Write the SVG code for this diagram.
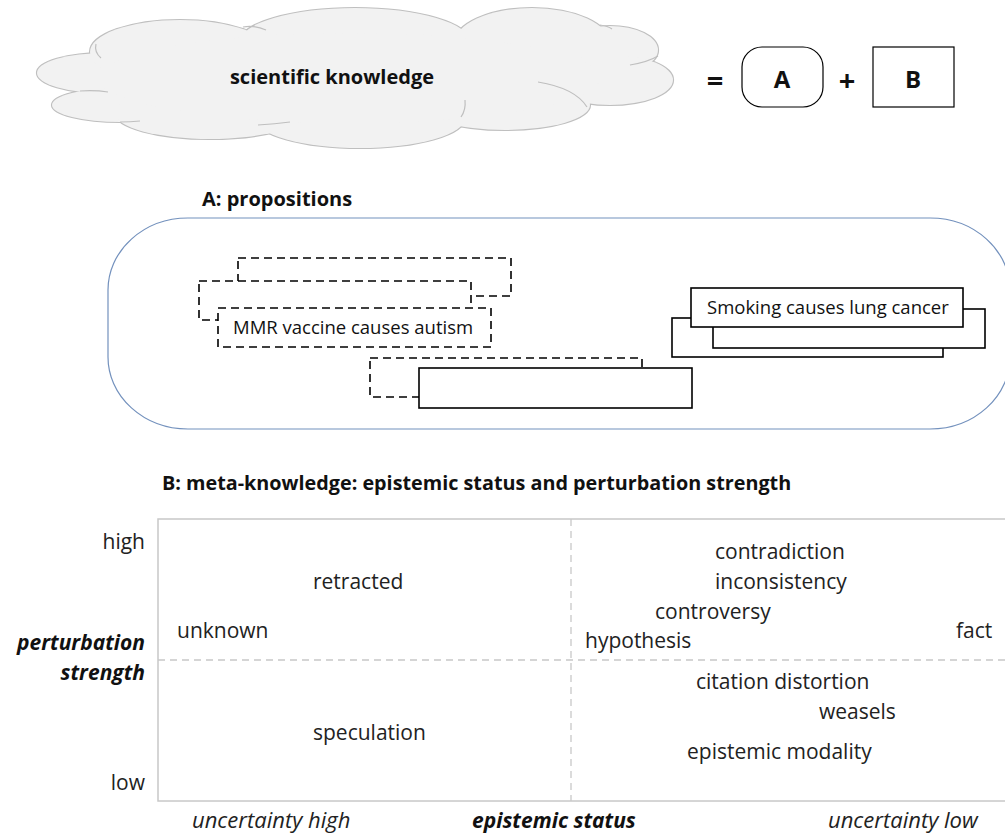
<svg xmlns="http://www.w3.org/2000/svg" width="1005" height="835" viewBox="0 0 1005 835">
<style>
text{font-family:"Open Sans","Liberation Sans",sans-serif;fill:#111}
.title{font-weight:bold;font-size:20px}
.prop{font-size:18.5px}
.lbl{font-size:21px;fill:#222}
.axis{font-size:22px;font-style:italic;fill:#222}
.axisb{font-size:21px;font-style:italic;font-weight:bold;fill:#111}
.dash{fill:#fff;stroke:#000;stroke-width:1.6;stroke-dasharray:8,5}
.solid{fill:#fff;stroke:#000;stroke-width:1.6}
.grid{fill:none;stroke:#c8c8c8;stroke-width:1.5}
.gdash{fill:none;stroke:#c8c8c8;stroke-width:1.3;stroke-dasharray:7,5}
.cl{stroke:#bfbfbf;stroke-width:1.2;fill:none}
</style>
<defs>
<g id="lobes">
<ellipse cx="105" cy="73" rx="68" ry="20"/>
<ellipse cx="120" cy="105" rx="68" ry="17"/>
<ellipse cx="180" cy="52" rx="90" ry="32"/>
<ellipse cx="355" cy="42" rx="115" ry="34"/>
<ellipse cx="532" cy="44" rx="78" ry="36"/>
<ellipse cx="610" cy="50" rx="48" ry="24"/>
<ellipse cx="610" cy="80" rx="63" ry="25"/>
<ellipse cx="505" cy="105" rx="85" ry="25"/>
<ellipse cx="360" cy="118" rx="105" ry="30"/>
<ellipse cx="210" cy="113" rx="95" ry="26"/>
</g>
</defs>
<g id="cloud">
<use href="#lobes" fill="#f2f2f2" stroke="#bfbfbf" stroke-width="2.2"/>
<use href="#lobes" fill="#f2f2f2" stroke="none"/>
<ellipse cx="350" cy="78" rx="250" ry="45" fill="#f2f2f2"/>
<path class="cl" d="M96,44 Q94,52 101,58"/>
<path class="cl" d="M243,27 Q255,25 266,30"/>
<path class="cl" d="M600,25 Q608,26 612,29"/>
<path class="cl" d="M630,65 Q648,62 658,56"/>
<path class="cl" d="M538,82 Q575,88 587,107"/>
<path class="cl" d="M461,117 Q466,110 465,100"/>
<path class="cl" d="M258,125 Q275,124 290,122"/>
<path class="cl" d="M80,91 Q95,90 108,92"/>
<path class="cl" d="M120,122 Q130,122 140,121"/>
<text class="title" x="332" y="84" text-anchor="middle">scientific knowledge</text>
</g>
<g id="equation">
<text x="715" y="91" text-anchor="middle" style="font-size:29px;font-weight:bold">=</text>
<rect x="742" y="47" width="81" height="60" rx="20" fill="#fff" stroke="#000" stroke-width="1.2"/>
<text x="782" y="88" text-anchor="middle" style="font-size:24px;font-weight:bold">A</text>
<text x="847" y="91" text-anchor="middle" style="font-size:29px;font-weight:bold">+</text>
<rect x="873" y="47" width="81" height="60" fill="#fff" stroke="#000" stroke-width="1.2"/>
<text x="913" y="88" text-anchor="middle" style="font-size:24px;font-weight:bold">B</text>
</g>
<g id="propositions">
<text class="title" x="202" y="206">A: propositions</text>
<rect x="108" y="218" width="902" height="211" rx="80" ry="72" fill="#fff" stroke="#7391bd" stroke-width="1.2"/>
<rect class="dash" x="238" y="258" width="273" height="38"/>
<rect class="dash" x="199" y="281" width="272" height="39"/>
<rect class="dash" x="218" y="308" width="273" height="39"/>
<text class="prop" x="233" y="334">MMR vaccine causes autism</text>
<rect class="dash" x="370" y="358" width="272" height="39"/>
<rect class="solid" x="419" y="368" width="273" height="40"/>
<rect class="solid" x="672" y="318" width="271" height="39"/>
<rect class="solid" x="713" y="309" width="272" height="39"/>
<rect class="solid" x="691" y="288" width="272" height="39"/>
<text class="prop" x="707" y="314">Smoking causes lung cancer</text>
</g>
<g id="metaknowledge">
<text class="title" x="162" y="490" style="font-size:19.8px">B: meta-knowledge: epistemic status and perturbation strength</text>
<rect class="grid" x="158" y="519" width="860" height="282"/>
<line class="gdash" x1="571" y1="519" x2="571" y2="801"/>
<line class="gdash" x1="158" y1="660" x2="1005" y2="660"/>
<text class="lbl" x="145" y="549" text-anchor="end">high</text>
<text class="lbl" x="145" y="790" text-anchor="end">low</text>
<text class="axisb" x="145" y="650" text-anchor="end">perturbation</text>
<text class="axisb" x="145" y="680" text-anchor="end">strength</text>
<text class="lbl" x="313" y="589">retracted</text>
<text class="lbl" x="177" y="638">unknown</text>
<text class="lbl" x="313" y="740">speculation</text>
<text class="lbl" x="715" y="559">contradiction</text>
<text class="lbl" x="715" y="589">inconsistency</text>
<text class="lbl" x="655" y="619">controversy</text>
<text class="lbl" x="585" y="648">hypothesis</text>
<text class="lbl" x="956" y="638">fact</text>
<text class="lbl" x="696" y="689">citation distortion</text>
<text class="lbl" x="819" y="719">weasels</text>
<text class="lbl" x="687" y="759">epistemic modality</text>
<text class="axis" x="192" y="828">uncertainty high</text>
<text class="axisb" x="472" y="828">epistemic status</text>
<text class="axis" x="828" y="828">uncertainty low</text>
</g>
</svg>
